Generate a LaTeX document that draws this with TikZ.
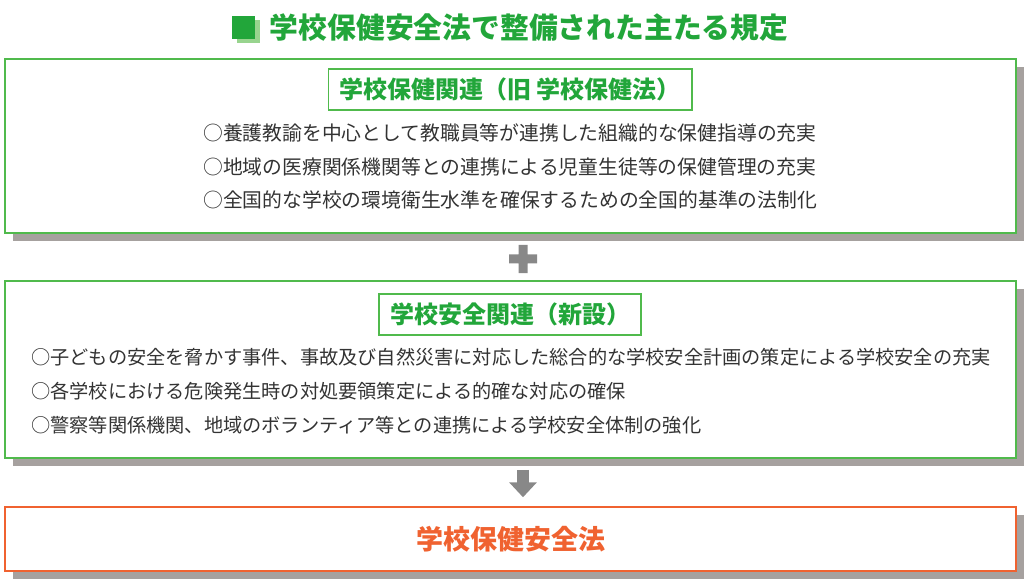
\documentclass[tikz,border=0pt]{standalone}
\usepackage{fontspec}
\newfontfamily\jpfont{Noto Sans CJK JP}
\usepackage{tikz}
\usetikzlibrary{positioning,arrows.meta,shadows}
\definecolor{kgreen}{RGB}{34,166,58}
\definecolor{lgreen}{RGB}{80,186,76}
\definecolor{pgreen}{RGB}{152,212,142}
\definecolor{korange}{RGB}{240,98,48}
\definecolor{sgray}{RGB}{166,161,159}
\definecolor{agray}{RGB}{136,136,136}
\definecolor{ink}{RGB}{51,51,51}

\begin{document}
\begin{tikzpicture}[x=1bp, y=-1bp,
panel/.style = {draw=#1, line width=1.5bp, fill=white, minimum width=1011bp,
                inner sep=0pt, drop shadow={shadow xshift=8bp, shadow yshift=-8bp,
                fill=sgray, opacity=1}},
panel/.default = lgreen,
headbox/.style = {draw=lgreen, line width=1.5bp, fill=white, minimum height=41bp,
                  inner xsep=11bp, inner ysep=0pt, text=kgreen,
                  font=\jpfont\bfseries\fontsize{24bp}{28bp}\selectfont},
item/.style = {anchor=west, inner sep=0pt, text=ink,
               font=\jpfont\fontsize{#1}{23bp}\selectfont},
item/.default = 19.5bp,
flow/.style = {draw=agray, line width=12bp, -{Triangle[width=27bp,length=15bp]},
               shorten <=11bp, shorten >=9bp}
                    ]
\useasboundingbox (0,0) rectangle (1024,579);
% title
\node[fill=kgreen, minimum size=23bp, inner sep=0pt,
      drop shadow={shadow xshift=5bp, shadow yshift=-3.5bp, fill=pgreen, opacity=1}]
      (mark) at (243,28) {};
\node[right=15bp of mark, inner sep=0pt, text=kgreen,
      font=\jpfont\bfseries\fontsize{28.8bp}{32bp}\selectfont]
      (title) {学校保健安全法で整備された主たる規定};
%
\node[panel, minimum height=174bp] (hoken) at (510.5,146) {};
\node[headbox] (hokenhead) at (510,89.5) {学校保健関連（旧 学校保健法）};
\foreach \t [count=\i] in {○養護教諭を中心として教職員等が連携した組織的な保健指導の充実,
                           ○地域の医療関係機関等との連携による児童生徒等の保健管理の充実,
                           ○全国的な学校の環境衛生水準を確保するための全国的基準の法制化}
    \node[item=19.8bp] (hoken\i) at (203,99.5+33.5*\i) {\t};
%
\fill[agray] (509,254.5) rectangle (537,263.5)
             (518.5,245) rectangle (527.5,273);
%
\node[panel, minimum height=177bp] (anzen) at (510.5,369.5) {};
\node[headbox] (anzenhead) at (510,314.5) {学校安全関連（新設）};
\foreach \t [count=\i] in {○子どもの安全を脅かす事件、事故及び自然災害に対応した総合的な学校安全計画の策定による学校安全の充実,
                           ○各学校における危険発生時の対処要領策定による的確な対応の確保,
                           ○警察等関係機関、地域のボランティア等との連携による学校安全体制の強化}
    \node[item=19.2bp] (anzen\i) at (31,323+34*\i) {\t};
%
\node[panel=korange, minimum height=64bp, text=korange,
      font=\jpfont\bfseries\fontsize{27bp}{30bp}\selectfont]
      (law) at (510.5,539) {学校保健安全法};
\draw[flow] ([xshift=12.5bp]anzen.south) -- ([xshift=12.5bp]law.north);
\end{tikzpicture}
\end{document}
